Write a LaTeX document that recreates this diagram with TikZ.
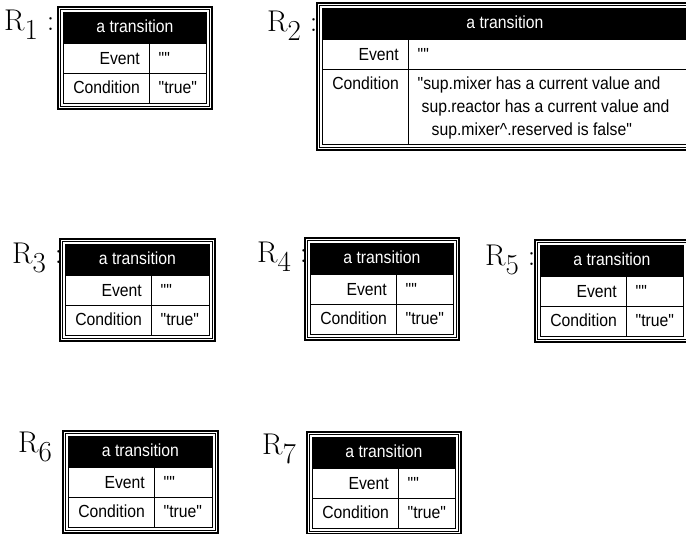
\documentclass[tikz,border=0pt]{standalone}
\usepackage{fontspec}
\newfontfamily\tabfont{Liberation Sans}[FakeStretch=0.9]

\tikzset{
  outerline/.style={line width=2.3pt},
  innerline/.style={line width=0.9pt},
  cellline/.style={line width=0.8pt},
  celltext/.style={font=\tabfont\fontsize{17.5}{23}\selectfont, inner sep=0pt},
  rlabel/.style={font=\fontsize{30}{32}\selectfont, inner sep=0pt, anchor=base west},
}

% R with its big, lowered index
\newcommand{\rname}[1]{R\raisebox{-9pt}{\fontsize{29}{30}\selectfont #1}}

% #1 name, #2 left, #3 top, #4 width, #5 height of condition row, #6 condition
\newcommand{\transbox}[6]{%
  \begin{scope}[shift={(#2,#3)}]
    \fill[white] (0,0) rectangle (#4,74+#5);
    \draw[outerline] (1.15,1.15) rectangle (#4-1.15,72.85+#5);
    \draw[innerline] (3.8,3.8) rectangle (#4-3.8,70.2+#5);
    \fill (6,6) rectangle (#4-6,37);
    \draw[cellline] (6.5,37) rectangle (#4-6.5,67.6+#5);
    \draw[cellline] (6.5,67) -- (#4-6.5,67);
    \draw[cellline] (92.5,37) -- (92.5,67.6+#5);
    \node (#1head) at (#4/2,27) [celltext, text=white, anchor=base] {a transition};
    \node (#1event) at (83,59) [celltext, anchor=base east] {Event};
    \node (#1evval) at (101.5,59) [celltext, anchor=base west] {""};
    \node (#1cond) at (83,88) [celltext, anchor=base east] {Condition};
    \node (#1cdval) at (101.5,88) [celltext, anchor=base west]
      {\begin{tabular}[t]{@{}l@{}}#6\end{tabular}};
  \end{scope}}

\begin{document}
\begin{tikzpicture}[x=1pt, y=-1pt]
    \useasboundingbox (0,0) rectangle (686,534);
    \clip (0,0) rectangle (686,534);
    \node (r1lab) at (4,31) [rlabel] {\rname{1} :};
    \node (r2lab) at (267,32) [rlabel] {\rname{2} :};
    \node (r3lab) at (12,264) [rlabel] {\rname{3} :};
    \node (r4lab) at (257,263) [rlabel] {\rname{4} :};
    \node (r5lab) at (485,266) [rlabel] {\rname{5} :};
    \node (r6lab) at (18,453) [rlabel] {\rname{6} :};
    \node (r7lab) at (262,455) [rlabel] {\rname{7} :};
    \transbox{r1}{57}{6}{156}{30}{"true"}
    \transbox{r2}{316}{2}{378}{75}{"sup.mixer has a current value and\\
      \hspace{4pt}sup.reactor has a current value and\\
      \hspace{14pt}sup.mixer\textasciicircum.reserved is false"}
    \transbox{r3}{59}{238}{157}{30}{"true"}
    \transbox{r4}{304}{237}{156}{30}{"true"}
    \transbox{r5}{534}{239}{156}{30}{"true"}
    \transbox{r6}{62}{430}{157}{30}{"true"}
    \transbox{r7}{306}{431}{156}{30}{"true"}
\end{tikzpicture}
\end{document}
